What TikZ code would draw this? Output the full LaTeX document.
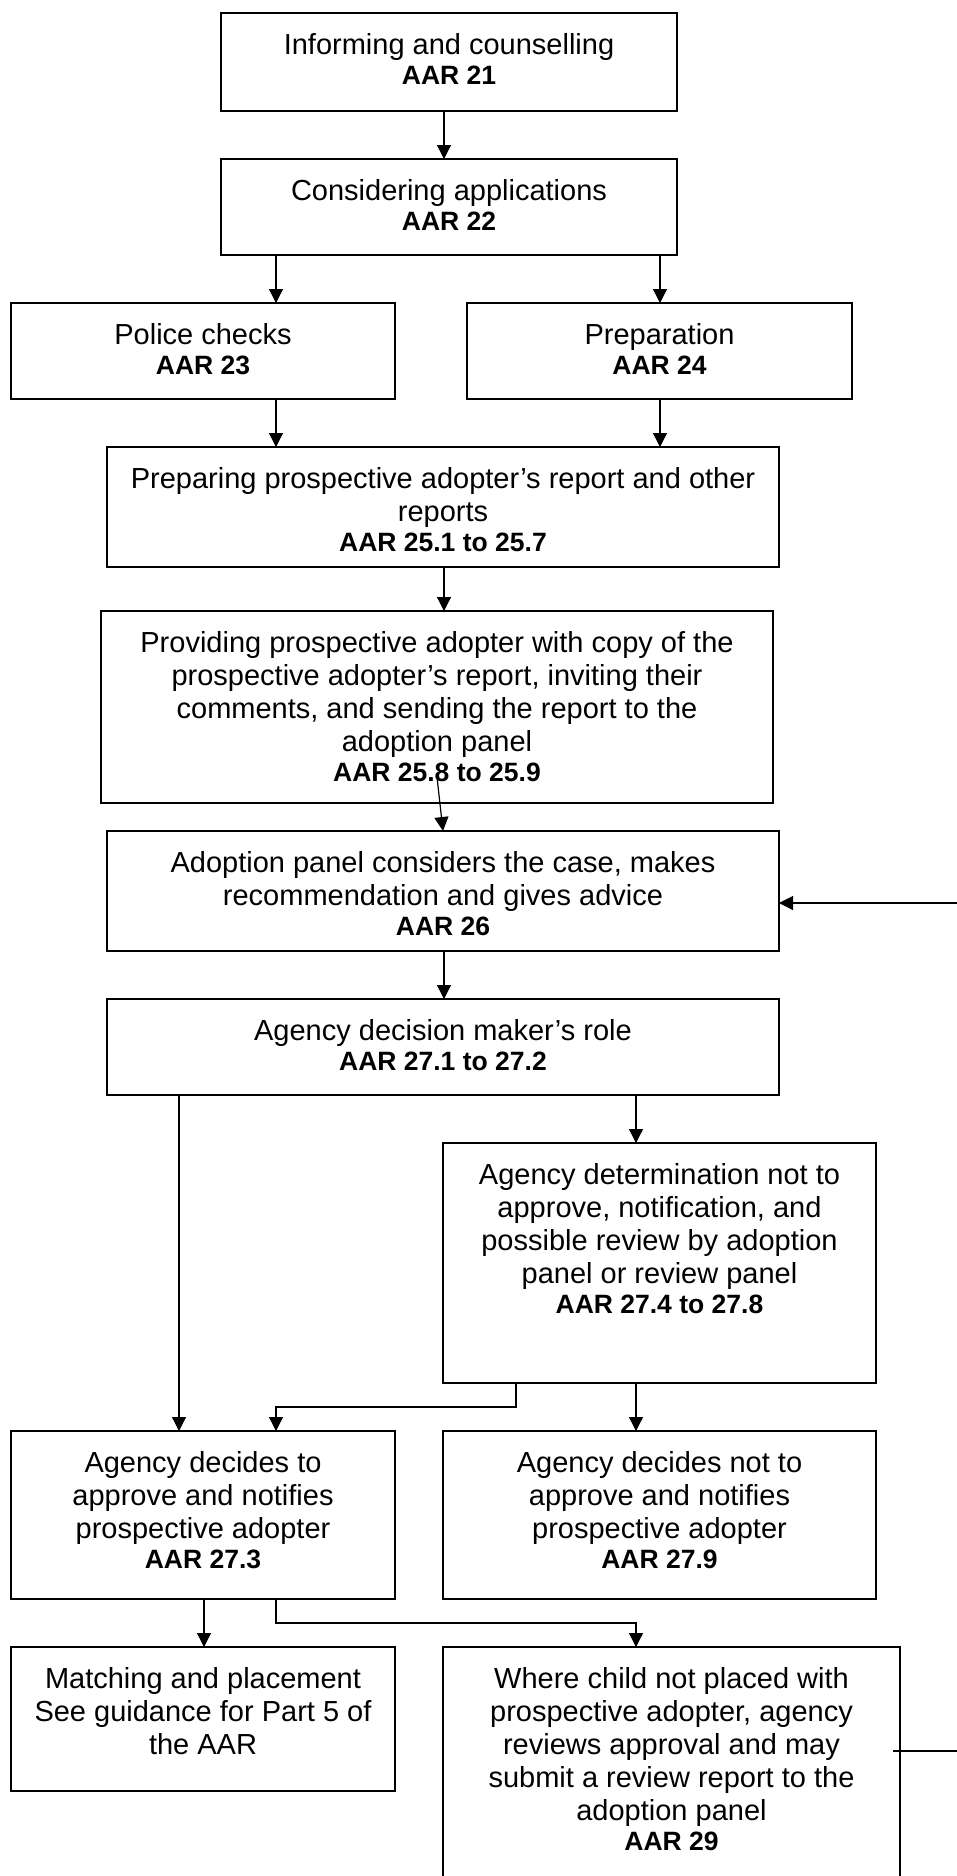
\documentclass[tikz,border=0pt]{standalone}
\usepackage{fontspec}
\setmainfont{Liberation Sans}
\usetikzlibrary{arrows.meta,calc}
\tikzset{
  box/.style={draw, line width=1.5pt, rectangle, inner sep=0pt, outer sep=0pt},
  txt/.style={font=\fontsize{29}{33}\selectfont, align=center, inner sep=0pt, anchor=north},
  arr/.style={line width=1.2pt, -{Triangle[width=14pt,length=14pt]}},
  ln/.style={line width=1.2pt}
}
\newcommand\bl[1]{{\fontsize{26.5}{30}\selectfont\bfseries #1}}
\newcommand\flowbox[6]{%
  \node[box, minimum width={(#4-#2)*1pt}, minimum height={(#5-#3)*1pt}, anchor=north west] (#1) at (#2,#3) {};
  \node[txt] (#1t) at ([yshift=-18pt]#1.north) {\strut #6};
}
\begin{document}
\begin{tikzpicture}[x=1pt,y=-1pt]
\useasboundingbox (0,0) rectangle (957,1876);
\fill[white] (0,0) rectangle (957,1876);
\clip (0,0) rectangle (957,1876);

\flowbox{b1}{221}{13}{677}{111}{Informing and counselling\\[-3pt]\bl{AAR 21}}
\flowbox{b2}{221}{159}{677}{255}{Considering applications\\[-3pt]\bl{AAR 22}}
\flowbox{b3}{11}{303}{395}{399}{Police checks\\[-3pt]\bl{AAR 23}}
\flowbox{b4}{467}{303}{852}{399}{Preparation\\[-3pt]\bl{AAR 24}}
\flowbox{b5}{107}{447}{779}{567}{Preparing prospective adopter’s report and other\\reports\\[-3pt]\bl{AAR 25.1 to 25.7}}
\flowbox{b6}{101}{611}{773}{803}{Providing prospective adopter with copy of the\\prospective adopter’s report, inviting their\\comments, and sending the report to the\\adoption panel\\[-3pt]\bl{AAR 25.8 to 25.9}}
\flowbox{b7}{107}{831}{779}{951}{Adoption panel considers the case, makes\\recommendation and gives advice\\[-3pt]\bl{AAR 26}}
\flowbox{b8}{107}{999}{779}{1095}{Agency decision maker’s role\\[-3pt]\bl{AAR 27.1 to 27.2}}
\flowbox{b9}{443}{1143}{876}{1383}{Agency determination not to\\approve, notification, and\\possible review by adoption\\panel or review panel\\[-3pt]\bl{AAR 27.4 to 27.8}}
\flowbox{b10}{11}{1431}{395}{1599}{Agency decides to\\approve and notifies\\prospective adopter\\[-3pt]\bl{AAR 27.3}}
\flowbox{b11}{443}{1431}{876}{1599}{Agency decides not to\\approve and notifies\\prospective adopter\\[-3pt]\bl{AAR 27.9}}
\flowbox{b12}{11}{1647}{395}{1791}{Matching and placement\\See guidance for Part 5 of\\the AAR}
\flowbox{b13}{443}{1647}{900}{1900}{Where child not placed with\\prospective adopter, agency\\reviews approval and may\\submit a review report to the\\adoption panel\\[-3pt]\bl{AAR 29}}

\coordinate (c179) at (179,0);
\coordinate (c204) at (204,0);
\coordinate (c276) at (276,0);
\coordinate (c444) at (444,0);
\coordinate (c516) at (516,0);
\coordinate (c636) at (636,0);
\coordinate (c660) at (660,0);

\draw[arr] (b1.south -| c444) -- (b2.north -| c444);
\draw[arr] (b2.south -| c276) -- (b3.north -| c276);
\draw[arr] (b2.south -| c660) -- (b4.north -| c660);
\draw[arr] (b3.south -| c276) -- (b5.north -| c276);
\draw[arr] (b4.south -| c660) -- (b5.north -| c660);
\draw[arr] (b5.south -| c444) -- (b6.north -| c444);
\coordinate (s6) at ([yshift=26pt]b6.south);
\draw[arr] (s6) -- (b7.north);
\draw[arr] (b7.south -| c444) -- (b8.north -| c444);
\draw[arr] (b8.south -| c179) -- (b10.north -| c179);
\draw[arr] (b8.south -| c636) -- (b9.north -| c636);
\draw[arr] (b9.south -| c516) -- ++(0,24) -| (b10.north -| c276);
\draw[arr] (b9.south -| c636) -- (b11.north -| c636);
\draw[arr] (b10.south -| c204) -- (b12.north -| c204);
\draw[arr] (b10.south -| c276) -- ++(0,24) -| (b13.north -| c636);

\coordinate (f1) at (893,1751);
\coordinate (f2) at (980,1751);
\coordinate (f3) at (980,903);
\draw[arr] (f1) -- (f2) -- (f3) -- (b7.east |- f3);
\end{tikzpicture}
\end{document}
